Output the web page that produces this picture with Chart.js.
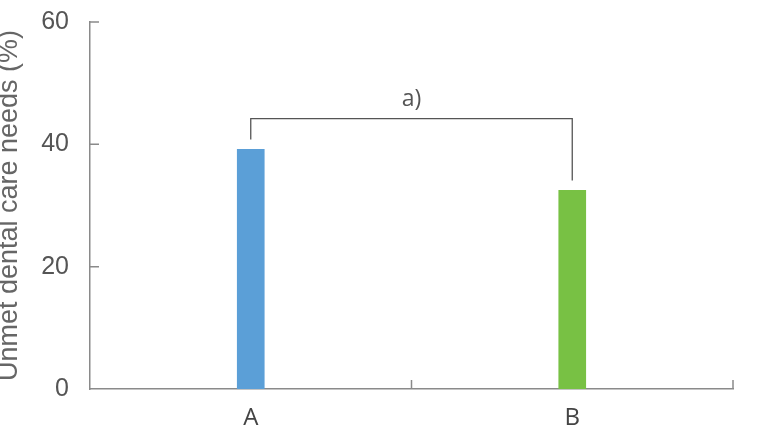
<!DOCTYPE html>
<html lang="en">
<head>
    <meta charset="UTF-8">
    <title>Unmet dental care needs</title>
    <style>
        html, body { margin: 0; padding: 0; background: #fff; }
        #wrap { width: 758px; height: 427px; }
    </style>
    <script src="https://cdn.jsdelivr.net/npm/chart.js"></script>
</head>
<body>
    <div id="wrap"><canvas id="chart" width="758" height="427"></canvas></div>

    <script>
        const categories = ["A", "B"];
        const values = [39.2, 32.5];
        const barColors = ["#5b9fd7", "#78c144"];
        const yTicks = [0, 20, 40, 60];
        // significance bracket, in data units
        const bracketTop = 44.2;
        const bracketEnds = [40.8, 34.1];
        const bracketLabel = "a)";

        const axisColor = "#8a8a8a";

        // inward tick marks + bracket
        const extras = {
            id: "extras",
            afterDraw(c) {
                const ctx = c.ctx, x = c.scales.x, y = c.scales.y;
                ctx.save();
                ctx.strokeStyle = axisColor;
                ctx.lineWidth = 1.5;
                ctx.beginPath();
                yTicks.forEach(v => {
                    if (v === 0) return;
                    const py = y.getPixelForValue(v);
                    ctx.moveTo(x.left, py);
                    ctx.lineTo(x.left + 9, py);
                });
                // category boundaries on x axis
                for (let i = 1; i <= categories.length; i++) {
                    const px = x.getPixelForValue(i - 0.5);
                    ctx.moveTo(px, y.bottom);
                    ctx.lineTo(px, y.bottom - 9);
                }
                ctx.stroke();

                const x0 = x.getPixelForValue(0), x1 = x.getPixelForValue(1);
                const top = y.getPixelForValue(bracketTop);
                ctx.strokeStyle = "#555";
                ctx.lineWidth = 1.3;
                ctx.beginPath();
                ctx.moveTo(x0, y.getPixelForValue(bracketEnds[0]));
                ctx.lineTo(x0, top);
                ctx.lineTo(x1, top);
                ctx.lineTo(x1, y.getPixelForValue(bracketEnds[1]));
                ctx.stroke();

                ctx.fillStyle = "#555";
                ctx.font = "23px 'Open Sans', sans-serif";
                ctx.textAlign = "center";
                ctx.textBaseline = "bottom";
                ctx.fillText(bracketLabel, (x0 + x1) / 2, top - 8);
                ctx.restore();
            }
        };

        new Chart(document.getElementById("chart"), {
            type: "bar",
            data: {
                labels: categories,
                datasets: [{ data: values, backgroundColor: barColors, barThickness: 27 }]
            },
            options: {
                responsive: false,
                animation: false,
                layout: { padding: { left: 0, top: 22, right: 25, bottom: 0 } },
                plugins: { legend: { display: false }, tooltip: { enabled: false } },
                scales: {
                    x: {
                        grid: { display: false, drawTicks: false },
                        border: { color: axisColor, width: 1.5 },
                        ticks: { color: "#444", padding: 15, font: { family: "'Open Sans', sans-serif", size: 24 } },
                        afterFit(s) { s.height = 38; s.paddingLeft = 0; s.paddingRight = 0; }
                    },
                    y: {
                        min: 0, max: 60,
                        grid: { display: false, drawTicks: false },
                        border: { color: axisColor, width: 1.5 },
                        ticks: { stepSize: 20, color: "#555", padding: 21, font: { family: "Arial, 'Liberation Sans', sans-serif", size: 25 } },
                        title: {
                            display: true,
                            text: "Unmet dental care needs (%)",
                            color: "#666",
                            padding: { top: 0, bottom: 0 },
                            font: { family: "Arial, 'Liberation Sans', sans-serif", size: 27, lineHeight: 0.72 }
                        },
                        afterFit(s) { s.width = 90; s.paddingTop = 0; s.paddingBottom = 0; }
                    }
                }
            },
            plugins: [extras]
        });
    </script>
</body>
</html>
